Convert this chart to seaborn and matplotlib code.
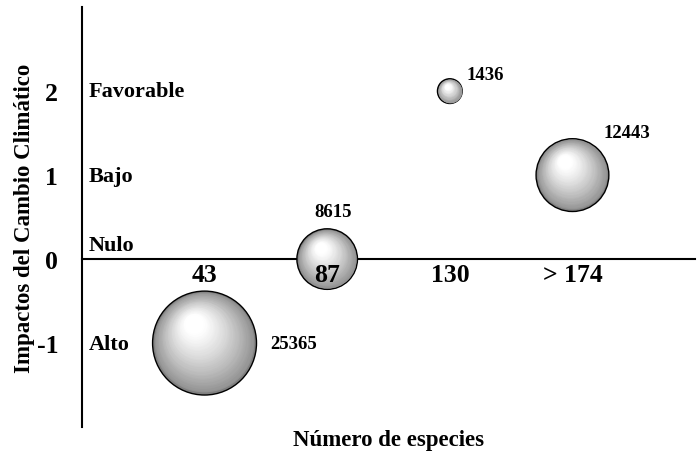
import numpy as np
import pandas as pd
import matplotlib
matplotlib.use("Agg")
import matplotlib.pyplot as plt
import matplotlib.transforms as mtransforms
import seaborn as sns

# data
categorias = ["43", "87", "130", "> 174"]
x_pos = [1, 2, 3, 4]
impacto = [-1, 0, 2, 1]
especies = [25365, 8615, 1436, 12443]
niveles = [2, 1, 0, -1]
nombres_nivel = ["Favorable", "Bajo", "Nulo", "Alto"]

# label offsets in points (style only)
off_valor = [(47, 0, "left"), (4, 34, "center"), (12, 12, "left"), (22, 31, "left")]
off_nivel = [0, -0.5, 10, -1]

df = pd.DataFrame({"x": x_pos, "impacto": impacto, "especies": especies})

sns.set_theme(style="white")
plt.rcParams["font.family"] = ["Liberation Serif", "DejaVu Serif"]
plt.rcParams["font.weight"] = "bold"
plt.rcParams["text.color"] = "black"
plt.rcParams["axes.labelcolor"] = "black"
plt.rcParams["xtick.color"] = "black"
plt.rcParams["ytick.color"] = "black"

fig, ax = plt.subplots(figsize=(7, 4.52), dpi=100)
fig.subplots_adjust(left=0.117, right=0.993, bottom=0.053, top=0.982)

s_max = 5600
sns.scatterplot(data=df, x="x", y="impacto", size="especies", sizes=(0, s_max),
                size_norm=(0, max(especies)), color="#7f7f7f", edgecolor="black",
                linewidth=1.0, legend=False, zorder=3, ax=ax)

# sphere shading: stacked lighter discs shifted towards the highlight
areas = np.array(especies) / max(especies) * s_max
for xi, yi, a in zip(x_pos, impacto, areas):
    r = np.sqrt(a) / 2
    for f in np.linspace(0.96, 0.04, 40):
        g = min(1.0, 1.05 - 0.5 * f ** 1.4)
        off = mtransforms.ScaledTranslation(-0.25 * (1 - f) * r / 72,
                                            0.45 * (1 - f) * r / 72, fig.dpi_scale_trans)
        ax.scatter([xi], [yi], s=(2 * r * f) ** 2, color=(g, g, g), linewidths=0,
                   transform=ax.transData + off, zorder=4)

# value labels
for xi, yi, n, (dx, dy, ha) in zip(x_pos, impacto, especies, off_valor):
    ax.annotate(str(n), (xi, yi), xytext=(dx, dy), textcoords="offset points",
                ha=ha, va="center", fontsize=13.5, fontweight="bold", zorder=6)

# level names
for y, nombre, dy in zip(niveles, nombres_nivel, off_nivel):
    ax.annotate(nombre, (0, y), xytext=(5, dy), textcoords="offset points",
                ha="left", va="center", fontsize=16, fontweight="bold")

ax.set_xlim(0, 5)
ax.set_ylim(-2, 3)
ax.spines["bottom"].set_position(("data", 0))
ax.spines["top"].set_visible(False)
ax.spines["right"].set_visible(False)
for s in ["bottom", "left"]:
    ax.spines[s].set_color("black")
    ax.spines[s].set_linewidth(1.5)
    ax.spines[s].set_zorder(2)

ax.set_xticks(x_pos)
ax.set_xticklabels(categorias, fontsize=18.5, fontweight="bold")
ax.set_yticks(niveles)
ax.set_yticklabels([str(v) for v in niveles], fontsize=18.5, fontweight="bold")
ax.tick_params(axis="x", length=0, pad=3)
ax.tick_params(axis="y", length=0, pad=17)
ax.xaxis.set_zorder(10)

ax.set_xlabel("Número de especies", fontsize=16.5, fontweight="bold")
ax.set_ylabel("Impactos del Cambio Climático", fontsize=16.5, fontweight="bold")
ax.xaxis.set_label_coords(0.5, -0.005)
ax.yaxis.set_label_coords(-0.077, 0.5)

fig.savefig("out.png", dpi=100)
